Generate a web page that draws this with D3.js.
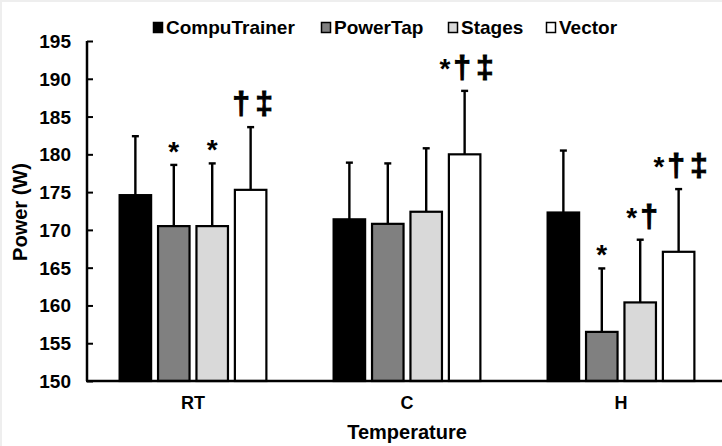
<!DOCTYPE html>
<html><head><meta charset="utf-8">
<script src="https://cdn.jsdelivr.net/npm/d3@7/dist/d3.min.js"></script>
<style>
html,body{margin:0;padding:0;background:#fff;}
svg text{font-family:"Liberation Sans",Arial,sans-serif;font-weight:bold;fill:#000;}
</style></head>
<body>
<svg id="chart" width="722" height="446"></svg>
<script>
const categories = ["RT", "C", "H"];
const series = ["CompuTrainer", "PowerTap", "Stages", "Vector"];
const colors = ["#000000", "#808080", "#d9d9d9", "#ffffff"];
const meanCompuTrainer = [174.6, 171.4, 172.3];
const meanPowerTap    = [170.5, 170.8, 156.5];
const meanStages      = [170.5, 172.4, 160.4];
const meanVector      = [175.3, 180.0, 167.1];
const sdCompuTrainer = [7.8, 7.5, 8.2];
const sdPowerTap    = [8.1, 8.0, 8.4];
const sdStages      = [8.3, 8.4, 8.3];
const sdVector      = [8.3, 8.4, 8.3];
const marks = [["", "*", "*", "†‡"], ["", "", "", "*†‡"], ["", "*", "*†", "*†‡"]];
const yTicks = [150, 155, 160, 165, 170, 175, 180, 185, 190, 195];

const means = [meanCompuTrainer, meanPowerTap, meanStages, meanVector];
const sds = [sdCompuTrainer, sdPowerTap, sdStages, sdVector];

const svg = d3.select("#chart");
svg.append("rect").attr("x",0).attr("y",0).attr("width",722).attr("height",2).attr("fill","#eeeeee");
svg.append("rect").attr("x",0).attr("y",0).attr("width",2).attr("height",446).attr("fill","#eeeeee");

const x0 = d3.scaleBand().domain(categories).range([86, 728]);
const x1 = d3.scaleBand().domain(series).range([0, x0.bandwidth()]).paddingInner(0.18).paddingOuter(0.875);
const y = d3.scaleLinear().domain([150, 195]).range([381, 41]);

const data = [];
categories.forEach((c, ci) => series.forEach((s, si) => {
  data.push({c, s, si, mean: means[si][ci], sd: sds[si][ci], mark: marks[ci][si]});
}));

const g = svg.append("g");
g.selectAll("rect.bar").data(data).join("rect").attr("class","bar")
  .attr("x", d => x0(d.c) + x1(d.s))
  .attr("y", d => y(d.mean))
  .attr("width", x1.bandwidth())
  .attr("height", d => y(150) - y(d.mean))
  .attr("fill", d => colors[d.si])
  .attr("stroke", "#000").attr("stroke-width", 2.2);

const cx = d => x0(d.c) + x1(d.s) + x1.bandwidth()/2;
g.selectAll("line.err").data(data).join("line").attr("class","err")
  .attr("x1", cx).attr("x2", cx)
  .attr("y1", d => y(d.mean)).attr("y2", d => y(d.mean + d.sd))
  .attr("stroke", "#000").attr("stroke-width", 2.4);
g.selectAll("line.cap").data(data).join("line").attr("class","cap")
  .attr("x1", d => cx(d) - 3.5).attr("x2", d => cx(d) + 3.5)
  .attr("y1", d => y(d.mean + d.sd)).attr("y2", d => y(d.mean + d.sd))
  .attr("stroke", "#000").attr("stroke-width", 2.4);

// significance marks
const mk = g.selectAll("text.mark").data(data.filter(d => d.mark)).join("text").attr("class","mark")
  .attr("x", d => cx(d) + (/[†‡]/.test(d.mark) ? 2 : 0))
  .attr("y", d => y(d.mean + d.sd) - (/[†‡]/.test(d.mark) ? 13 : 4))
  .attr("text-anchor", "middle");
mk.each(function(d) {
  const t = d3.select(this);
  const onlyStar = !/[†‡]/.test(d.mark);
  Array.from(d.mark).forEach((ch, i) => {
    const sp = t.append("tspan").text(ch);
    if (ch === "*") {
      sp.style("font-size", "28px");
    } else {
      sp.style("font-size", "32px").attr("stroke", "#000").attr("stroke-width", 0.9);
      if (i > 0) sp.attr("dx", d.mark[i-1] === "*" ? 3 : 5);
    }
  });
});

// y axis
const yAxis = d3.axisLeft(y).tickValues(yTicks).tickSize(-6).tickPadding(16).tickFormat(d3.format("d"));
const ya = svg.append("g").attr("transform", "translate(87,0)").call(yAxis);
ya.select(".domain").attr("stroke", "#000").attr("stroke-width", 2.5).attr("d", "M0,41V381");
ya.selectAll(".tick line").attr("stroke", "#000").attr("stroke-width", 2);
ya.selectAll(".tick text").style("font-size", "19px").attr("dy", "0.34em");

// x axis
const xAxis = d3.axisBottom(x0).tickSize(0).tickPadding(0);
const xa = svg.append("g").attr("transform", "translate(0,381)").call(xAxis);
xa.select(".domain").attr("stroke", "#000").attr("stroke-width", 2.5).attr("d", "M86,0H722");
xa.selectAll(".tick text").style("font-size", "18px").attr("y", 28).attr("dy", 0);

// axis titles
svg.append("text").attr("x", 407).attr("y", 439).attr("text-anchor", "middle")
  .style("font-size", "20px").text("Temperature");
svg.append("text").attr("transform", "translate(27,212) rotate(-90)").attr("text-anchor", "middle")
  .style("font-size", "20px").text("Power (W)");

// legend
const legX = [153, 321, 448, 546];
const lg = svg.append("g").selectAll("g").data(series).join("g")
  .attr("transform", (d, i) => `translate(${legX[i]},0)`);
lg.append("rect").attr("x", 0.5).attr("y", 22.5).attr("width", 9).attr("height", 10)
  .attr("fill", (d, i) => colors[i]).attr("stroke", "#000").attr("stroke-width", 1.5);
lg.append("text").attr("x", 13).attr("y", 34).style("font-size", "19px").text(d => d);
</script>
</body></html>
